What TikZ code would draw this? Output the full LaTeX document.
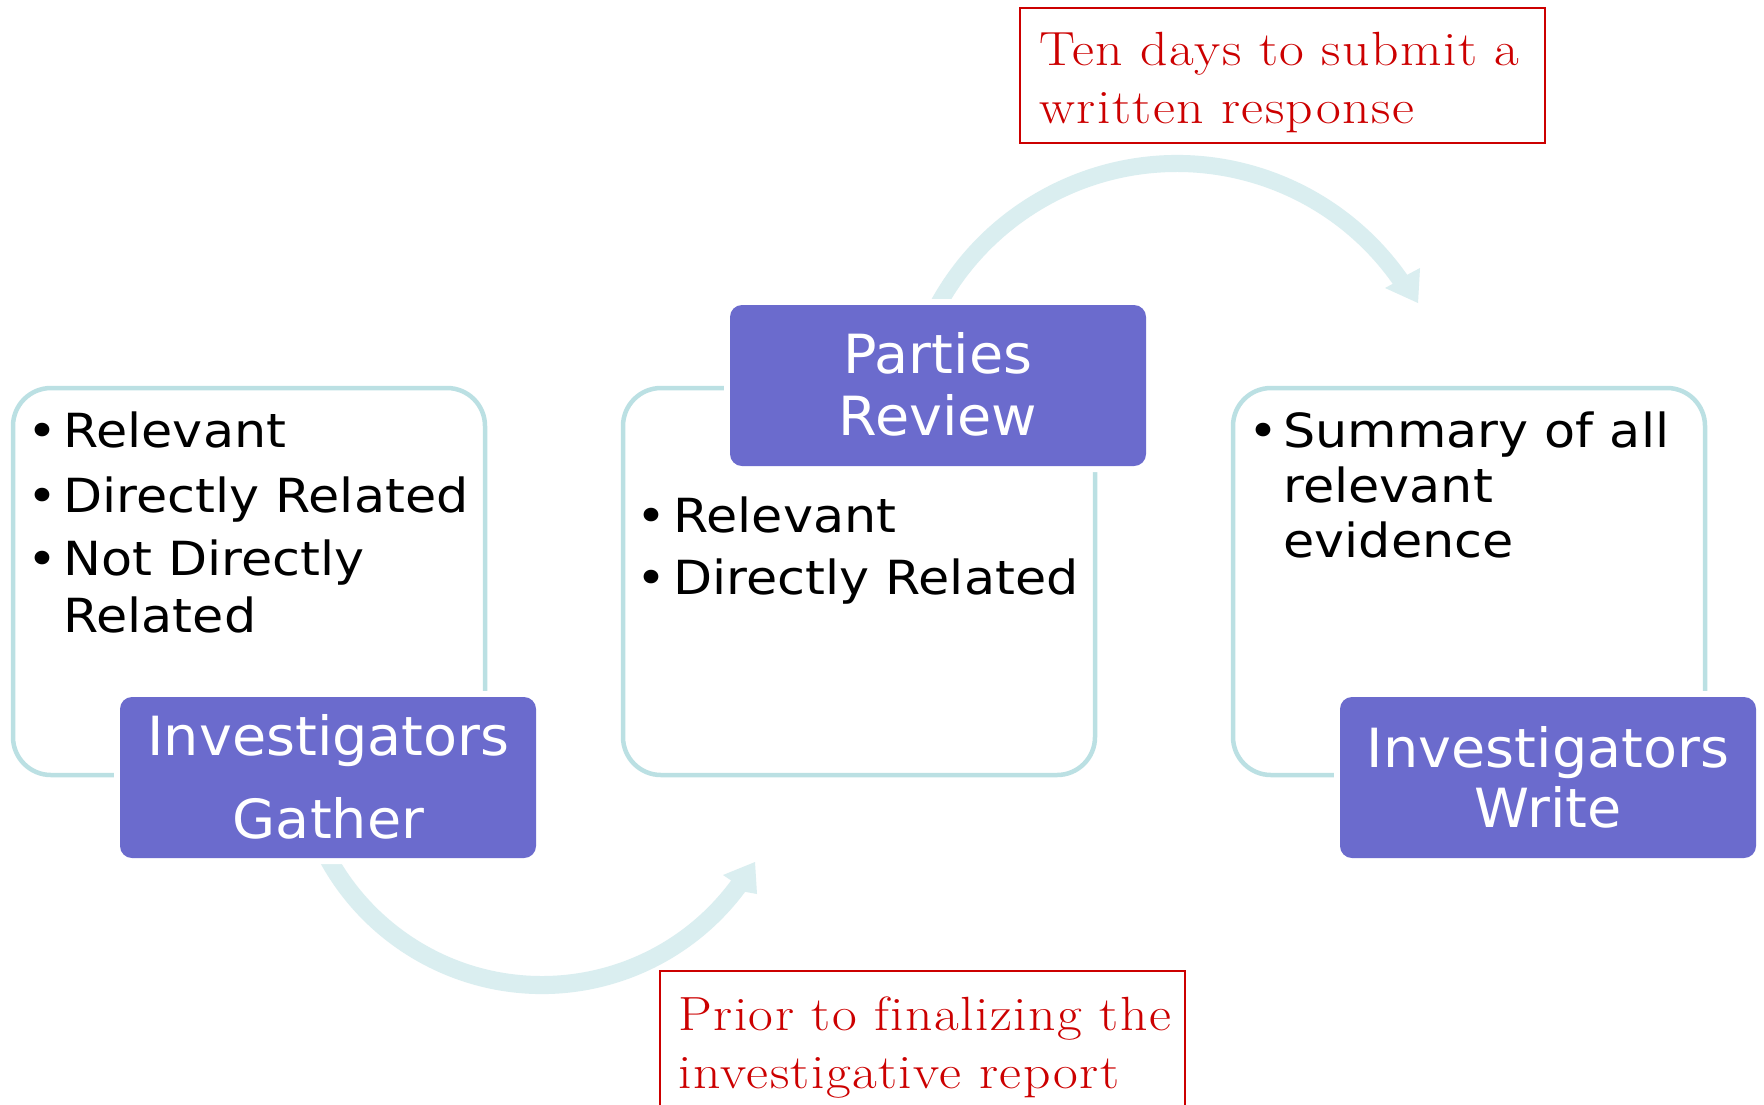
\documentclass[tikz,border=0pt]{standalone}
\usepackage{fontspec}
\usetikzlibrary{calc}
\newfontfamily\listfont{DejaVu Sans}[FakeStretch=1.08]
\newfontfamily\boxfont{DejaVu Sans}[FakeStretch=1.03]
\newfontfamily\notefont{Latin Modern Roman}[FakeStretch=1.12,LetterSpace=3,Ligatures=NoCommon]
\definecolor{boxpurple}{RGB}{107,107,205}
\definecolor{outlineblue}{RGB}{187,224,227}
\definecolor{arrowblue}{RGB}{218,238,240}
\definecolor{notered}{RGB}{204,0,0}
\begin{document}
\begin{tikzpicture}[x=0.5pt,y=-0.5pt,
  outbox/.style={draw=outlineblue, line width=2.25pt, rounded corners=19pt, inner sep=0pt, outer sep=0pt, anchor=north west, minimum width=236pt, minimum height=193.5pt},
  stagebox/.style={fill=boxpurple, rounded corners=6pt, inner sep=0pt, outer sep=0pt, anchor=north west, minimum width=208pt, minimum height=80.5pt, preaction={draw=white, line width=6pt}},
  notebox/.style={draw=notered, line width=1pt, inner sep=0pt, outer sep=0pt, anchor=north west, minimum width=262.5pt},
  bullettext/.style={font=\listfont\fontsize{23.5pt}{28pt}\selectfont, anchor=base west, inner sep=0pt, text=black},
  bulletdot/.style={font=\listfont\fontsize{23.5pt}{28pt}\selectfont, anchor=base, inner sep=0pt, text=black},
  stagetext/.style={font=\boxfont\fontsize{27pt}{32pt}\selectfont, anchor=base, inner sep=0pt, text=white},
  notetext/.style={font=\notefont\fontsize{24pt}{29pt}\selectfont, anchor=base west, inner sep=0pt, text=notered},
  arrowshape/.style={fill=arrowblue}
]
\useasboundingbox (0,0) rectangle (1764,1104);
\clip (0,0) rectangle (1764,1104);
\fill[white] (0,0) rectangle (1764,1104);

% outline boxes
\node[outbox] (ob1) at (13,388) {};
\node[outbox] (ob2) at (623,388) {};
\node[outbox] (ob3) at (1233,388) {};

% circular arrows
\coordinate (CT) at (1177,436);
\coordinate (CB) at (542,741);
\fill[arrowshape] ($(CT)+(-158:281)$) arc[start angle=-158, end angle=-35, radius=281]
  -- (1420,268) -- (1418,303) -- (1385,288)
  -- ($(CT)+(-35.2:264)$) arc[start angle=-35.2, end angle=-158, radius=264] -- cycle;
\fill[arrowshape] ($(CB)+(160:253)$) arc[start angle=160, end angle=36.6, radius=253]
  -- (757,894) -- (755,862) -- (723,875)
  -- ($(CB)+(36.4:235)$) arc[start angle=36.4, end angle=160, radius=235] -- cycle;

% stage boxes
\node[stagebox] (gather) at (120,697) {};
\node[stagebox] (review) at (730,305) {};
\node[stagebox] (write) at (1340,697) {};

% note boxes
\node[notebox, minimum height=67.5pt] (note1) at (1020,8) {};
\node[notebox, minimum height=75pt] (note2) at (660,971) {};

% stage texts
\node[stagetext] (g1) at (328.5,755) {Investigators};
\node[stagetext] (g2) at (328.5,838) {Gather};
\node[stagetext] (r1) at (938,373) {Parties};
\node[stagetext] (r2) at (938,435) {Review};
\node[stagetext] (w1) at (1548,767) {Investigators};
\node[stagetext] (w2) at (1548,827) {Write};

% left list
\node[bulletdot] (lb1) at (42,447) {•};
\node[bullettext] (lt1) at (63,447) {Relevant};
\node[bulletdot] (lb2) at (42,512) {•};
\node[bullettext] (lt2) at (63,512) {Directly Related};
\node[bulletdot] (lb3) at (42,575) {•};
\node[bullettext] (lt3) at (63,575) {Not Directly};
\node[bullettext] (lt4) at (63,632) {Related};

% middle list
\node[bulletdot] (mb1) at (651,532) {•};
\node[bullettext] (mt1) at (673,532) {Relevant};
\node[bulletdot] (mb2) at (651,594) {•};
\node[bullettext] (mt2) at (673,594) {Directly Related};

% right list
\node[bulletdot] (rb1) at (1263,447) {•};
\node[bullettext] (rt1) at (1283,447) {Summary of all};
\node[bullettext] (rt2) at (1283,502) {relevant};
\node[bullettext] (rt3) at (1283,557) {evidence};

% note texts
\node[notetext] (n1a) at (1039,65) {Ten days to submit a};
\node[notetext] (n1b) at (1039,123) {written response};
\node[notetext] (n2a) at (678,1030) {Prior to finalizing the};
\node[notetext] (n2b) at (678,1088) {investigative report};
\end{tikzpicture}
\end{document}
